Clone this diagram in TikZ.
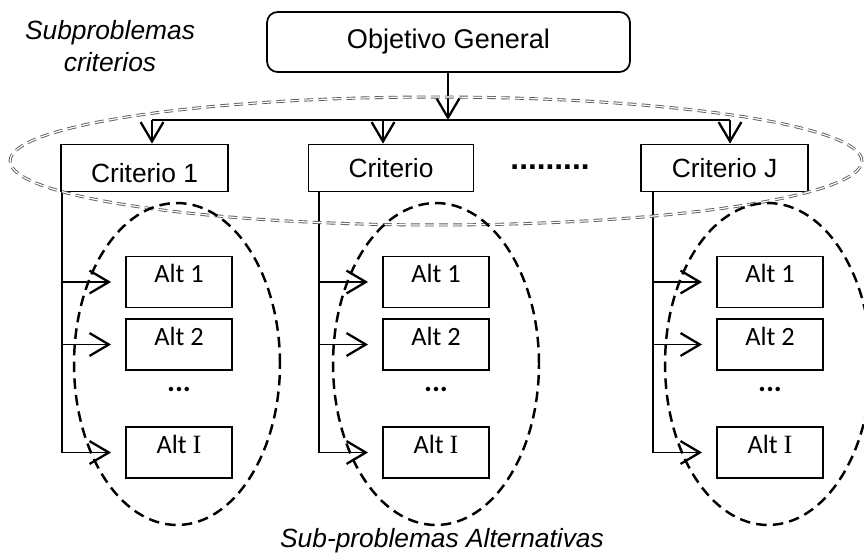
\documentclass[tikz,border=0pt]{standalone}
\usepackage{fontspec}
\setmainfont{Liberation Sans}
\newfontfamily\altfont{Carlito}
\newfontfamily\serifI{Liberation Serif}
\usetikzlibrary{arrows.meta}
\tikzset{>={Straight Barb[length=11pt,width=13pt,line width=1.3pt]}}

\begin{document}
\begin{tikzpicture}[x=0.02cm,y=-0.02cm,line width=1pt,
    crit/.style={draw,minimum width=3.34cm,minimum height=0.94cm,font=\fontsize{15}{18}\selectfont},
    altbox/.style={draw,minimum width=2.12cm,minimum height=1.02cm,inner sep=0pt,
        text height=9.7pt,text depth=8.7pt,font=\altfont\fontsize{15}{17}\selectfont},
    grupo/.style={dashed,dash pattern=on 6pt off 3.5pt,line width=1.4pt},
    grupogris/.style={draw=gray!70!black,double=white,double distance=0.7pt,line width=0.5pt,
        dash pattern=on 5pt off 3pt},
    etiq/.style={font=\itshape\fontsize{15}{18}\selectfont,align=center}]
\useasboundingbox (0,0) rectangle (864,554);
\clip (0,0) rectangle (864,554);
% objetivo y criterios
\node[draw,rounded corners=6pt,minimum width=7.26cm,minimum height=1.2cm,
    font=\fontsize{15.4}{18}\selectfont] (obj) at (448.5,42) {Objetivo General};
\node[crit,text height=16.3pt,text depth=0pt] (c1) at (144.5,168) {Criterio 1};
\node[crit,minimum width=3.3cm] (c2) at (391,168) {Criterio};
\node[crit] (cj) at (724.5,168) {Criterio J};
\node[font=\bfseries\fontsize{18}{20}\selectfont] (puntos) at (550,167) {.........};
\coordinate (bus) at (448,120);
\coordinate (b1) at (152,120);
\coordinate (b2) at (383,120);
\coordinate (bj) at (730,120);
\draw[->] (obj.south -| bus) -- (bus);
\draw (b1) -- (bj);
\draw[->] (b1) -- (c1.north -| b1);
\draw[->] (b2) -- (c2.north -| b2);
\draw[->] (bj) -- (cj.north -| bj);
% alternativas
\foreach \n/\x in {1/179,2/436,3/770}{
  \node[altbox] (a\n1) at (\x,282) {Alt 1};
  \node[altbox] (a\n2) at (\x,344.5) {Alt 2};
  \node[font=\altfont\bfseries\fontsize{17}{18}\selectfont] (d\n) at (\x,389) {...};
  \node[altbox] (a\n3) at (\x,452.5) {Alt {\serifI I}};
}
\coordinate (t1) at ([xshift=1.2pt]c1.south west);
\coordinate (t2) at (319,191);
\coordinate (t3) at (653,191);
\foreach \n in {1,2,3}{
  \draw[->,shorten >=8pt] (t\n) |- (a\n3.west);
  \draw[->,shorten >=8pt] (a\n1.west -| t\n) -- (a\n1.west);
  \draw[->,shorten >=8pt] (a\n2.west -| t\n) -- (a\n2.west);
}
% grupos
\draw[grupogris] (436,161) ellipse [x radius=8.52cm,y radius=1.28cm];
\foreach \x in {177,436,768}
  \draw[grupo] (\x,364) ellipse [x radius=2.06cm,y radius=3.22cm];
\node[etiq] (sc) at (110,46) {Subproblemas\\criterios};
\node[etiq] (sa) at (442,541) {Sub-problemas Alternativas};
\end{tikzpicture}
\end{document}
